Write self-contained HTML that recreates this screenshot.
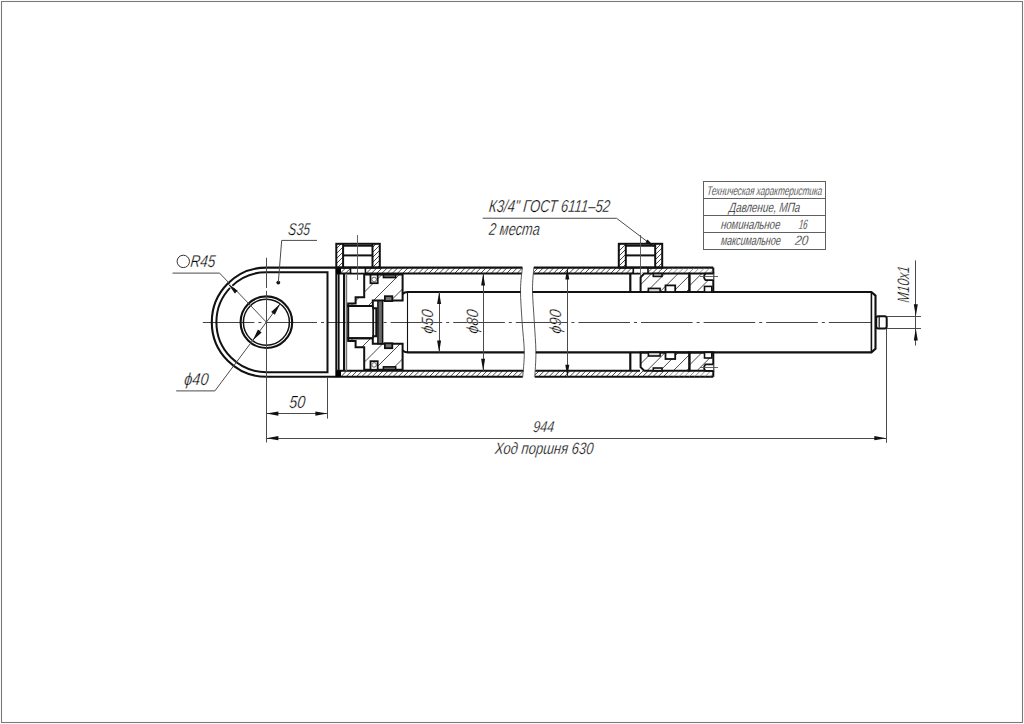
<!DOCTYPE html>
<html><head><meta charset="utf-8"><style>html,body{margin:0;padding:0;background:#fff;width:1024px;height:724px;overflow:hidden}svg{display:block}text{font-family:"Liberation Sans",sans-serif}</style></head>
<body><svg width="1024" height="724" viewBox="0 0 1024 724" font-family="Liberation Sans, sans-serif">
<defs><clipPath id="h1"><path d="M338.5 267.6 L522.4 267.6 L521.8 273.6 L338.5 273.6 Z"/></clipPath><clipPath id="h2"><path d="M533.8 267.6 L668 267.6 L668 273.6 L533.4 273.6 Z"/></clipPath><clipPath id="h3"><path d="M338.5 370.8 L523.6 370.8 L522.8 376.8 L338.5 376.8 Z"/></clipPath><clipPath id="h4"><path d="M535.2 370.8 L668 370.8 L668 376.8 L534.8 376.8 Z"/></clipPath><clipPath id="h5"><path d="M668 267.6 L713.3 267.6 L713.3 273.6 L668 273.6 Z"/></clipPath><clipPath id="h6"><path d="M668 370.8 L713.3 370.8 L713.3 376.8 L668 376.8 Z"/></clipPath><clipPath id="h7"><path d="M336.3 243.8 L343.1 243.8 L343.1 267.6 L336.3 267.6 Z"/></clipPath><clipPath id="h8"><path d="M372.5 243.8 L379.8 243.8 L379.8 267.6 L372.5 267.6 Z"/></clipPath><clipPath id="h9"><path d="M618.8 243.8 L625.8 243.8 L625.8 267.6 L618.8 267.6 Z"/></clipPath><clipPath id="h10"><path d="M655.2 243.8 L662.2 243.8 L662.2 267.6 L655.2 267.6 Z"/></clipPath><clipPath id="h11"><path d="M364.2 274.6 L402.6 274.6 L402.6 300.6 L372.8 300.6 L372.8 306.1 L348.2 306.1 L348.2 303.4 L355.6 303.4 L355.6 297.2 L364.2 297.2 Z"/></clipPath><clipPath id="h12"><path d="M364.2 369.8 L402.6 369.8 L402.6 343.8 L372.8 343.8 L372.8 338.3 L348.2 338.3 L348.2 341 L355.6 341 L355.6 347.2 L364.2 347.2 Z"/></clipPath><clipPath id="h13"><path d="M644.2 273.6 L689.4 273.6 L689.4 292 L640.6 292 L640.6 277.3 Z"/></clipPath><clipPath id="h14"><path d="M644.2 370.8 L689.4 370.8 L689.4 352.4 L640.6 352.4 L640.6 367.1 Z"/></clipPath><clipPath id="h15"><path d="M689.4 273.6 L713.3 273.6 L713.3 292 L689.4 292 Z"/></clipPath><clipPath id="h16"><path d="M689.4 370.8 L713.3 370.8 L713.3 352.4 L689.4 352.4 Z"/></clipPath></defs>
<rect width="1024" height="724" fill="#fff"/>
<rect x="1.5" y="1.5" width="1021" height="721" rx="0" stroke="#7a7a7a" stroke-width="1.1" fill="none"/>
<line x1="202.8" y1="322.5" x2="871" y2="322.5" stroke="#444" stroke-width="1.0" stroke-dasharray="51.6 4 3 4"/>
<path d="M336.5 267.6 H266.4 A54.6 54.6 0 0 0 266.4 376.8 H336.5" stroke="#111" stroke-width="2.1" fill="none" />
<path d="M327.5 272.2 H266.4 A50.0 50.0 0 0 0 266.4 372.2 H327.5 Z" stroke="#111" stroke-width="2.0" fill="none" />
<circle cx="266.4" cy="322.2" r="25.8" stroke="#111" stroke-width="2.1" fill="none"/>
<circle cx="266.4" cy="322.2" r="23.0" stroke="#111" stroke-width="1.5" fill="none"/>
<line x1="266.5" y1="257.8" x2="266.5" y2="288" stroke="#4a4a4a" stroke-width="1.0" />
<line x1="266.5" y1="290.8" x2="266.5" y2="442.5" stroke="#4a4a4a" stroke-width="1.0" />
<circle cx="278.3" cy="282.6" r="1.9" fill="#111"/>
<path d="M278.3 282.6 L281.7 240.4 L317 240.4" stroke="#4a4a4a" stroke-width="1.0" fill="none" />
<g><g transform="translate(287.8 234.6) skewX(-6) translate(-287.8 -234.6)"><text x="287.8" y="234.6" font-size="17.2" font-style="italic" fill="#000" stroke="#fff" stroke-width="0.3"  textLength="21.6" lengthAdjust="spacingAndGlyphs" text-anchor="start">S35</text></g></g>
<circle cx="183.3" cy="261.4" r="6.2" stroke="#333" stroke-width="1" fill="none"/>
<g><g transform="translate(189.9 267.3) skewX(-6) translate(-189.9 -267.3)"><text x="189.9" y="267.3" font-size="17.2" font-style="italic" fill="#000" stroke="#fff" stroke-width="0.3"  textLength="25" lengthAdjust="spacingAndGlyphs" text-anchor="start">R45</text></g></g>
<path d="M172.5 273.1 L219.6 273.1 L266.4 322.2" stroke="#4a4a4a" stroke-width="1.0" fill="none" />
<line x1="229.44" y1="285.24" x2="232.84" y2="288.64" stroke="#fff" stroke-width="3.2" />
<line x1="229.04" y1="284.84" x2="233.04" y2="288.84" stroke="#4a4a4a" stroke-width="1.0" />
<path d="M227.79 283.59 L237.69 290.66 L234.86 293.49 Z" fill="#111" stroke="none"/>
<path d="M176.2 390.9 L214.9 390.9 L280.2 303.7" stroke="#4a4a4a" stroke-width="1.0" fill="none" />
<path d="M280.2 303.8 L274.84 314.78 L271.16 312.02 Z" fill="#111" stroke="none"/>
<path d="M252.6 340.6 L257.96 329.62 L261.64 332.38 Z" fill="#111" stroke="none"/>
<g><g transform="translate(183.8 384.6) skewX(-6) translate(-183.8 -384.6)"><text x="183.8" y="384.6" font-size="17.2" font-style="italic" fill="#000" stroke="#fff" stroke-width="0.3"  textLength="24.2" lengthAdjust="spacingAndGlyphs" text-anchor="start">ϕ40</text></g></g>
<line x1="327.5" y1="377" x2="327.5" y2="418.6" stroke="#4a4a4a" stroke-width="1.0" />
<line x1="266.4" y1="413.5" x2="327.4" y2="413.5" stroke="#4a4a4a" stroke-width="1.0" />
<path d="M266.4 413.6 L278.4 411.5 L278.4 415.7 Z" fill="#111" stroke="none"/>
<path d="M327.4 413.6 L315.4 415.7 L315.4 411.5 Z" fill="#111" stroke="none"/>
<g><g transform="translate(288.7 407.6) skewX(-6) translate(-288.7 -407.6)"><text x="288.7" y="407.6" font-size="17.6" font-style="italic" fill="#000" stroke="#fff" stroke-width="0.3"  textLength="16" lengthAdjust="spacingAndGlyphs" text-anchor="start">50</text></g></g>
<line x1="886.5" y1="328.5" x2="886.5" y2="442.8" stroke="#4a4a4a" stroke-width="1.0" />
<line x1="266.4" y1="438.5" x2="886.3" y2="438.5" stroke="#4a4a4a" stroke-width="1.0" />
<path d="M266.4 438.2 L278.4 436.1 L278.4 440.3 Z" fill="#111" stroke="none"/>
<path d="M886.3 438.2 L874.3 440.3 L874.3 436.1 Z" fill="#111" stroke="none"/>
<g><g transform="translate(532.7 431.6) skewX(-6) translate(-532.7 -431.6)"><text x="532.7" y="431.6" font-size="15.8" font-style="italic" fill="#000" stroke="#fff" stroke-width="0.3"  textLength="21" lengthAdjust="spacingAndGlyphs" text-anchor="start">944</text></g></g>
<g><g transform="translate(494.6 453.8) skewX(-6) translate(-494.6 -453.8)"><text x="494.6" y="453.8" font-size="16.4" font-style="italic" fill="#000" stroke="#fff" stroke-width="0.3"  textLength="98.4" lengthAdjust="spacingAndGlyphs" text-anchor="start">Ход поршня 630</text></g></g>
<path clip-path="url(#h1)" d="M329.6 273.6 L335.6 267.6 M334.8 273.6 L340.8 267.6 M340 273.6 L346 267.6 M345.2 273.6 L351.2 267.6 M350.4 273.6 L356.4 267.6 M355.6 273.6 L361.6 267.6 M360.8 273.6 L366.8 267.6 M366 273.6 L372 267.6 M371.2 273.6 L377.2 267.6 M376.4 273.6 L382.4 267.6 M381.6 273.6 L387.6 267.6 M386.8 273.6 L392.8 267.6 M392 273.6 L398 267.6 M397.2 273.6 L403.2 267.6 M402.4 273.6 L408.4 267.6 M407.6 273.6 L413.6 267.6 M412.8 273.6 L418.8 267.6 M418 273.6 L424 267.6 M423.2 273.6 L429.2 267.6 M428.4 273.6 L434.4 267.6 M433.6 273.6 L439.6 267.6 M438.8 273.6 L444.8 267.6 M444 273.6 L450 267.6 M449.2 273.6 L455.2 267.6 M454.4 273.6 L460.4 267.6 M459.6 273.6 L465.6 267.6 M464.8 273.6 L470.8 267.6 M470 273.6 L476 267.6 M475.2 273.6 L481.2 267.6 M480.4 273.6 L486.4 267.6 M485.6 273.6 L491.6 267.6 M490.8 273.6 L496.8 267.6 M496 273.6 L502 267.6 M501.2 273.6 L507.2 267.6 M506.4 273.6 L512.4 267.6 M511.6 273.6 L517.6 267.6 M516.8 273.6 L522.8 267.6 M522 273.6 L528 267.6 M527.2 273.6 L533.2 267.6" stroke="#333" stroke-width="0.9" fill="none"/>
<path clip-path="url(#h2)" d="M527.2 273.6 L533.2 267.6 M532.4 273.6 L538.4 267.6 M537.6 273.6 L543.6 267.6 M542.8 273.6 L548.8 267.6 M548 273.6 L554 267.6 M553.2 273.6 L559.2 267.6 M558.4 273.6 L564.4 267.6 M563.6 273.6 L569.6 267.6 M568.8 273.6 L574.8 267.6 M574 273.6 L580 267.6 M579.2 273.6 L585.2 267.6 M584.4 273.6 L590.4 267.6 M589.6 273.6 L595.6 267.6 M594.8 273.6 L600.8 267.6 M600 273.6 L606 267.6 M605.2 273.6 L611.2 267.6 M610.4 273.6 L616.4 267.6 M615.6 273.6 L621.6 267.6 M620.8 273.6 L626.8 267.6 M626 273.6 L632 267.6 M631.2 273.6 L637.2 267.6 M636.4 273.6 L642.4 267.6 M641.6 273.6 L647.6 267.6 M646.8 273.6 L652.8 267.6 M652 273.6 L658 267.6 M657.2 273.6 L663.2 267.6 M662.4 273.6 L668.4 267.6 M667.6 273.6 L673.6 267.6 M672.8 273.6 L678.8 267.6" stroke="#333" stroke-width="0.9" fill="none"/>
<path clip-path="url(#h3)" d="M330.4 376.8 L336.4 370.8 M335.6 376.8 L341.6 370.8 M340.8 376.8 L346.8 370.8 M346 376.8 L352 370.8 M351.2 376.8 L357.2 370.8 M356.4 376.8 L362.4 370.8 M361.6 376.8 L367.6 370.8 M366.8 376.8 L372.8 370.8 M372 376.8 L378 370.8 M377.2 376.8 L383.2 370.8 M382.4 376.8 L388.4 370.8 M387.6 376.8 L393.6 370.8 M392.8 376.8 L398.8 370.8 M398 376.8 L404 370.8 M403.2 376.8 L409.2 370.8 M408.4 376.8 L414.4 370.8 M413.6 376.8 L419.6 370.8 M418.8 376.8 L424.8 370.8 M424 376.8 L430 370.8 M429.2 376.8 L435.2 370.8 M434.4 376.8 L440.4 370.8 M439.6 376.8 L445.6 370.8 M444.8 376.8 L450.8 370.8 M450 376.8 L456 370.8 M455.2 376.8 L461.2 370.8 M460.4 376.8 L466.4 370.8 M465.6 376.8 L471.6 370.8 M470.8 376.8 L476.8 370.8 M476 376.8 L482 370.8 M481.2 376.8 L487.2 370.8 M486.4 376.8 L492.4 370.8 M491.6 376.8 L497.6 370.8 M496.8 376.8 L502.8 370.8 M502 376.8 L508 370.8 M507.2 376.8 L513.2 370.8 M512.4 376.8 L518.4 370.8 M517.6 376.8 L523.6 370.8 M522.8 376.8 L528.8 370.8 M528 376.8 L534 370.8" stroke="#333" stroke-width="0.9" fill="none"/>
<path clip-path="url(#h4)" d="M528 376.8 L534 370.8 M533.2 376.8 L539.2 370.8 M538.4 376.8 L544.4 370.8 M543.6 376.8 L549.6 370.8 M548.8 376.8 L554.8 370.8 M554 376.8 L560 370.8 M559.2 376.8 L565.2 370.8 M564.4 376.8 L570.4 370.8 M569.6 376.8 L575.6 370.8 M574.8 376.8 L580.8 370.8 M580 376.8 L586 370.8 M585.2 376.8 L591.2 370.8 M590.4 376.8 L596.4 370.8 M595.6 376.8 L601.6 370.8 M600.8 376.8 L606.8 370.8 M606 376.8 L612 370.8 M611.2 376.8 L617.2 370.8 M616.4 376.8 L622.4 370.8 M621.6 376.8 L627.6 370.8 M626.8 376.8 L632.8 370.8 M632 376.8 L638 370.8 M637.2 376.8 L643.2 370.8 M642.4 376.8 L648.4 370.8 M647.6 376.8 L653.6 370.8 M652.8 376.8 L658.8 370.8 M658 376.8 L664 370.8 M663.2 376.8 L669.2 370.8 M668.4 376.8 L674.4 370.8" stroke="#333" stroke-width="0.9" fill="none"/>
<line x1="336.3" y1="267.6" x2="522.4" y2="267.6" stroke="#111" stroke-width="2.1" />
<line x1="533.8" y1="267.6" x2="713.3" y2="267.6" stroke="#111" stroke-width="2.1" />
<line x1="336.3" y1="273.6" x2="521.8" y2="273.6" stroke="#111" stroke-width="2.0" />
<line x1="533.4" y1="273.6" x2="640" y2="273.6" stroke="#111" stroke-width="2.0" />
<line x1="336.3" y1="370.8" x2="523.6" y2="370.8" stroke="#111" stroke-width="2.0" />
<line x1="535.2" y1="370.8" x2="640" y2="370.8" stroke="#111" stroke-width="2.0" />
<line x1="336.3" y1="376.8" x2="522.8" y2="376.8" stroke="#111" stroke-width="2.1" />
<line x1="534.8" y1="376.8" x2="713.3" y2="376.8" stroke="#111" stroke-width="2.1" />
<path d="M522.4 267.6 C522.08 271.33 520.55 280.93 520.5 290 C520.45 299.07 521.47 311.67 522.1 322 C522.73 332.33 524.2 342.83 524.3 352 C524.4 361.17 522.97 372.83 522.7 377" stroke="#444" stroke-width="0.9" fill="none" />
<path d="M533.8 267.6 C533.58 271.33 532.42 280.93 532.5 290 C532.58 299.07 533.73 311.67 534.3 322 C534.87 332.33 535.82 342.83 535.9 352 C535.98 361.17 534.98 372.83 534.8 377" stroke="#444" stroke-width="0.9" fill="none" />
<path clip-path="url(#h5)" d="M657.2 273.6 L663.2 267.6 M662.4 273.6 L668.4 267.6 M667.6 273.6 L673.6 267.6 M672.8 273.6 L678.8 267.6 M678 273.6 L684 267.6 M683.2 273.6 L689.2 267.6 M688.4 273.6 L694.4 267.6 M693.6 273.6 L699.6 267.6 M698.8 273.6 L704.8 267.6 M704 273.6 L710 267.6 M709.2 273.6 L715.2 267.6 M714.4 273.6 L720.4 267.6" stroke="#777" stroke-width="0.8" fill="none"/>
<path clip-path="url(#h6)" d="M658 376.8 L664 370.8 M663.2 376.8 L669.2 370.8 M668.4 376.8 L674.4 370.8 M673.6 376.8 L679.6 370.8 M678.8 376.8 L684.8 370.8 M684 376.8 L690 370.8 M689.2 376.8 L695.2 370.8 M694.4 376.8 L700.4 370.8 M699.6 376.8 L705.6 370.8 M704.8 376.8 L710.8 370.8 M710 376.8 L716 370.8 M715.2 376.8 L721.2 370.8" stroke="#777" stroke-width="0.8" fill="none"/>
<rect x="350.5" y="268.7" width="14.9" height="3.8" rx="0" stroke="none" stroke-width="0" fill="#fff"/>
<line x1="350.5" y1="267.6" x2="350.5" y2="273.6" stroke="#111" stroke-width="1.6" />
<line x1="365.4" y1="267.6" x2="365.4" y2="273.6" stroke="#111" stroke-width="1.6" />
<rect x="633.3" y="268.7" width="14.7" height="3.8" rx="0" stroke="none" stroke-width="0" fill="#fff"/>
<line x1="633.3" y1="267.6" x2="633.3" y2="273.6" stroke="#111" stroke-width="1.6" />
<line x1="648" y1="267.6" x2="648" y2="273.6" stroke="#111" stroke-width="1.6" />
<line x1="336.3" y1="267.1" x2="336.3" y2="377.3" stroke="#111" stroke-width="2.0" />
<line x1="338.7" y1="273.6" x2="338.7" y2="370.8" stroke="#111" stroke-width="1.8" />
<line x1="344" y1="273.6" x2="344" y2="370.8" stroke="#111" stroke-width="2.0" />
<line x1="346.4" y1="273.6" x2="346.4" y2="370.8" stroke="#777" stroke-width="1.6" />
<rect x="336" y="267.6" width="5" height="6" rx="0" stroke="none" stroke-width="0" fill="#000"/>
<rect x="336" y="370.8" width="5" height="6" rx="0" stroke="none" stroke-width="0" fill="#000"/>
<path clip-path="url(#h7)" d="M312.4 267.6 L336.2 243.8 M317.4 267.6 L341.2 243.8 M322.4 267.6 L346.2 243.8 M327.4 267.6 L351.2 243.8 M332.4 267.6 L356.2 243.8 M337.4 267.6 L361.2 243.8 M342.4 267.6 L366.2 243.8 M347.4 267.6 L371.2 243.8" stroke="#333" stroke-width="0.9" fill="none"/>
<path clip-path="url(#h8)" d="M347.4 267.6 L371.2 243.8 M352.4 267.6 L376.2 243.8 M357.4 267.6 L381.2 243.8 M362.4 267.6 L386.2 243.8 M367.4 267.6 L391.2 243.8 M372.4 267.6 L396.2 243.8 M377.4 267.6 L401.2 243.8 M382.4 267.6 L406.2 243.8" stroke="#333" stroke-width="0.9" fill="none"/>
<rect x="336.3" y="243.8" width="43.5" height="23.8" rx="0" stroke="#111" stroke-width="2.0" fill="none"/>
<line x1="343.1" y1="243.8" x2="343.1" y2="267.6" stroke="#111" stroke-width="2.0" />
<line x1="372.5" y1="243.8" x2="372.5" y2="267.6" stroke="#111" stroke-width="2.0" />
<line x1="343.1" y1="245.8" x2="372.5" y2="245.8" stroke="#111" stroke-width="1.8" />
<line x1="342.6" y1="255.4" x2="373" y2="255.4" stroke="#111" stroke-width="2.0" />
<line x1="357.5" y1="235" x2="357.5" y2="280" stroke="#555" stroke-width="0.9" />
<path clip-path="url(#h9)" d="M592.4 267.6 L616.2 243.8 M597.4 267.6 L621.2 243.8 M602.4 267.6 L626.2 243.8 M607.4 267.6 L631.2 243.8 M612.4 267.6 L636.2 243.8 M617.4 267.6 L641.2 243.8 M622.4 267.6 L646.2 243.8 M627.4 267.6 L651.2 243.8" stroke="#333" stroke-width="0.9" fill="none"/>
<path clip-path="url(#h10)" d="M627.4 267.6 L651.2 243.8 M632.4 267.6 L656.2 243.8 M637.4 267.6 L661.2 243.8 M642.4 267.6 L666.2 243.8 M647.4 267.6 L671.2 243.8 M652.4 267.6 L676.2 243.8 M657.4 267.6 L681.2 243.8 M662.4 267.6 L686.2 243.8" stroke="#333" stroke-width="0.9" fill="none"/>
<rect x="618.8" y="243.8" width="43.4" height="23.8" rx="0" stroke="#111" stroke-width="2.0" fill="none"/>
<line x1="625.8" y1="243.8" x2="625.8" y2="267.6" stroke="#111" stroke-width="2.0" />
<line x1="655.2" y1="243.8" x2="655.2" y2="267.6" stroke="#111" stroke-width="2.0" />
<line x1="625.8" y1="245.8" x2="655.2" y2="245.8" stroke="#111" stroke-width="1.8" />
<line x1="625.3" y1="255.4" x2="655.7" y2="255.4" stroke="#111" stroke-width="2.0" />
<line x1="640.5" y1="235" x2="640.5" y2="276" stroke="#555" stroke-width="0.9" />
<path clip-path="url(#h11)" d="M315.4 306.1 L346.9 274.6 M332.9 306.1 L364.4 274.6 M350.4 306.1 L381.9 274.6 M367.9 306.1 L399.4 274.6 M385.4 306.1 L416.9 274.6 M402.9 306.1 L434.4 274.6" stroke="#333" stroke-width="0.9" fill="none"/>
<path d="M364.2 274.6 L402.6 274.6 L402.6 300.6 L372.8 300.6 L372.8 306.1 L348.2 306.1 L348.2 303.4 L355.6 303.4 L355.6 297.2 L364.2 297.2 Z" stroke="#111" stroke-width="2.0" fill="none" />
<path clip-path="url(#h12)" d="M304.2 369.8 L335.7 338.3 M321.7 369.8 L353.2 338.3 M339.2 369.8 L370.7 338.3 M356.7 369.8 L388.2 338.3 M374.2 369.8 L405.7 338.3 M391.7 369.8 L423.2 338.3 M409.2 369.8 L440.7 338.3" stroke="#333" stroke-width="0.9" fill="none"/>
<path d="M364.2 369.8 L402.6 369.8 L402.6 343.8 L372.8 343.8 L372.8 338.3 L348.2 338.3 L348.2 341 L355.6 341 L355.6 347.2 L364.2 347.2 Z" stroke="#111" stroke-width="2.0" fill="none" />
<path d="M348.2 306.1 H371.4 Q373 306.1 373.2 308.2 H376.3 V336.2 H373.2 Q373 338.3 371.4 338.3 H348.2 Z" stroke="#111" stroke-width="2.0" fill="none" />
<line x1="373.2" y1="308.2" x2="373.2" y2="336.2" stroke="#111" stroke-width="1.8" />
<rect x="377.9" y="300.7" width="4.7" height="43" rx="0" stroke="#111" stroke-width="1.5" fill="#6a6a6a"/>
<rect x="370.5" y="274.6" width="7.2" height="8.6" rx="0" stroke="#111" stroke-width="1.8" fill="#fff"/>
<rect x="370.5" y="361.2" width="7.2" height="8.6" rx="0" stroke="#111" stroke-width="1.8" fill="#fff"/>
<rect x="384.9" y="296.2" width="7.4" height="4.9" rx="0" stroke="#111" stroke-width="1.8" fill="#777"/>
<rect x="384.9" y="343.3" width="7.4" height="4.9" rx="0" stroke="#111" stroke-width="1.8" fill="#777"/>
<rect x="383.4" y="274.6" width="12.3" height="3" rx="0" stroke="#111" stroke-width="1.5" fill="#666"/>
<rect x="383.4" y="366.8" width="12.3" height="3" rx="0" stroke="#111" stroke-width="1.5" fill="#666"/>
<circle cx="374.1" cy="279.5" r="2.3" stroke="#555" stroke-width="0.9" fill="none"/>
<circle cx="374.1" cy="364.9" r="2.3" stroke="#555" stroke-width="0.9" fill="none"/>
<path d="M520.6 292.0 H407.7 Q404.3 292.0 402.6 294.0 M402.6 350.4 Q404.3 352.4 407.7 352.4 H524.2" stroke="#111" stroke-width="2.1" fill="none" />
<path d="M532.6 292.0 H871.4 L875.5 295.6 V348.79999999999995 L871.4 352.4 H535.8" stroke="#111" stroke-width="2.1" fill="none" />
<line x1="407.5" y1="292" x2="407.5" y2="352.4" stroke="#111" stroke-width="1.1" />
<line x1="871.4" y1="292" x2="871.4" y2="352.4" stroke="#111" stroke-width="1.6" />
<rect x="876.2" y="316.2" width="10.5" height="12.2" rx="2" stroke="#111" stroke-width="2.0" fill="none"/>
<line x1="879.2" y1="316.8" x2="879.2" y2="327.8" stroke="#111" stroke-width="1.2" />
<line x1="886.7" y1="316.5" x2="921" y2="316.5" stroke="#4a4a4a" stroke-width="1.0" />
<line x1="886.7" y1="328.5" x2="921" y2="328.5" stroke="#4a4a4a" stroke-width="1.0" />
<line x1="915.5" y1="260.4" x2="915.5" y2="345.5" stroke="#4a4a4a" stroke-width="1.0" />
<path d="M915.8 316.2 L913.8 304.2 L917.8 304.2 Z" fill="#111" stroke="none"/>
<path d="M915.8 328.4 L917.8 340.4 L913.8 340.4 Z" fill="#111" stroke="none"/>
<g transform="rotate(-90 909.2 303)"><g transform="translate(909.2 303) skewX(-6) translate(-909.2 -303)"><text x="909.2" y="303" font-size="16.6" font-style="italic" fill="#000" stroke="#fff" stroke-width="0.3"  textLength="36.5" lengthAdjust="spacingAndGlyphs" text-anchor="start">M10x1</text></g></g>
<line x1="439.5" y1="292" x2="439.5" y2="352.4" stroke="#4a4a4a" stroke-width="1.0" />
<path d="M439.1 292 L441.1 304 L437.1 304 Z" fill="#111" stroke="none"/>
<path d="M439.1 352.4 L437.1 340.4 L441.1 340.4 Z" fill="#111" stroke="none"/>
<g transform="rotate(-90 433.5 334)"><g transform="translate(433.5 334) skewX(-6) translate(-433.5 -334)"><text x="433.5" y="334" font-size="16.4" font-style="italic" fill="#000" stroke="#fff" stroke-width="0.3"  textLength="24" lengthAdjust="spacingAndGlyphs" text-anchor="start">ϕ50</text></g></g>
<line x1="483.5" y1="273.6" x2="483.5" y2="370.8" stroke="#4a4a4a" stroke-width="1.0" />
<path d="M483.1 273.6 L485.1 285.6 L481.1 285.6 Z" fill="#111" stroke="none"/>
<path d="M483.1 370.8 L481.1 358.8 L485.1 358.8 Z" fill="#111" stroke="none"/>
<g transform="rotate(-90 478.3 334)"><g transform="translate(478.3 334) skewX(-6) translate(-478.3 -334)"><text x="478.3" y="334" font-size="16.4" font-style="italic" fill="#000" stroke="#fff" stroke-width="0.3"  textLength="24" lengthAdjust="spacingAndGlyphs" text-anchor="start">ϕ80</text></g></g>
<line x1="567.5" y1="267.6" x2="567.5" y2="376.8" stroke="#4a4a4a" stroke-width="1.0" />
<path d="M567.3 267.6 L569.3 279.6 L565.3 279.6 Z" fill="#111" stroke="none"/>
<path d="M567.3 376.8 L565.3 364.8 L569.3 364.8 Z" fill="#111" stroke="none"/>
<g transform="rotate(-90 560.8 334)"><g transform="translate(560.8 334) skewX(-6) translate(-560.8 -334)"><text x="560.8" y="334" font-size="16.4" font-style="italic" fill="#000" stroke="#fff" stroke-width="0.3"  textLength="24" lengthAdjust="spacingAndGlyphs" text-anchor="start">ϕ90</text></g></g>
<line x1="630.3" y1="273.6" x2="630.3" y2="292" stroke="#111" stroke-width="2.2" />
<line x1="630.3" y1="370.8" x2="630.3" y2="352.4" stroke="#111" stroke-width="2.2" />
<path clip-path="url(#h13)" d="M620.1 292 L638.5 273.6 M633.3 292 L651.7 273.6 M646.5 292 L664.9 273.6 M659.7 292 L678.1 273.6 M672.9 292 L691.3 273.6 M686.1 292 L704.5 273.6 M699.3 292 L717.7 273.6" stroke="#333" stroke-width="0.9" fill="none"/>
<path d="M644.2 273.6 L689.4 273.6 L689.4 292 L640.6 292 L640.6 277.3 Z" stroke="#111" stroke-width="2.0" fill="none" />
<path clip-path="url(#h14)" d="M620.5 370.8 L638.9 352.4 M633.7 370.8 L652.1 352.4 M646.9 370.8 L665.3 352.4 M660.1 370.8 L678.5 352.4 M673.3 370.8 L691.7 352.4 M686.5 370.8 L704.9 352.4 M699.7 370.8 L718.1 352.4" stroke="#333" stroke-width="0.9" fill="none"/>
<path d="M644.2 370.8 L689.4 370.8 L689.4 352.4 L640.6 352.4 L640.6 367.1 Z" stroke="#111" stroke-width="2.0" fill="none" />
<path clip-path="url(#h15)" d="M670.1 292 L688.5 273.6 M683.3 292 L701.7 273.6 M696.5 292 L714.9 273.6 M709.7 292 L728.1 273.6 M722.9 292 L741.3 273.6" stroke="#333" stroke-width="0.9" fill="none"/>
<path d="M689.4 273.6 L713.3 273.6 L713.3 292 L689.4 292 Z" stroke="#111" stroke-width="2.0" fill="none" />
<path clip-path="url(#h16)" d="M670.5 370.8 L688.9 352.4 M683.7 370.8 L702.1 352.4 M696.9 370.8 L715.3 352.4 M710.1 370.8 L728.5 352.4 M723.3 370.8 L741.7 352.4" stroke="#333" stroke-width="0.9" fill="none"/>
<path d="M689.4 370.8 L713.3 370.8 L713.3 352.4 L689.4 352.4 Z" stroke="#111" stroke-width="2.0" fill="none" />
<line x1="713.3" y1="267.6" x2="713.3" y2="273.6" stroke="#111" stroke-width="2.0" />
<line x1="713.3" y1="370.8" x2="713.3" y2="376.8" stroke="#111" stroke-width="2.0" />
<rect x="653.3" y="273.6" width="8.7" height="2.8" rx="0" stroke="#111" stroke-width="1.6" fill="#ddd"/>
<rect x="648.4" y="288.4" width="11.7" height="3.6" rx="0" stroke="#111" stroke-width="1.6" fill="#ddd"/>
<rect x="665.5" y="285.4" width="9.7" height="6.6" rx="0" stroke="#111" stroke-width="1.8" fill="#fff"/>
<rect x="704.5" y="286.4" width="7.3" height="5.6" rx="0" stroke="#111" stroke-width="1.6" fill="#fff"/>
<path d="M713.3 273.6 H705.5 Q702.5 276.85 705.5 280.1 H713.3" stroke="#111" stroke-width="1.8" fill="#fff" />
<line x1="700" y1="276.5" x2="718" y2="276.5" stroke="#555" stroke-width="0.9" />
<rect x="653.3" y="368" width="8.7" height="2.8" rx="0" stroke="#111" stroke-width="1.6" fill="#ddd"/>
<rect x="648.4" y="352.4" width="11.7" height="3.6" rx="0" stroke="#111" stroke-width="1.6" fill="#ddd"/>
<rect x="665.5" y="352.4" width="9.7" height="6.6" rx="0" stroke="#111" stroke-width="1.8" fill="#fff"/>
<rect x="704.5" y="352.4" width="7.3" height="5.6" rx="0" stroke="#111" stroke-width="1.6" fill="#fff"/>
<path d="M713.3 364.29999999999995 H705.5 Q702.5 367.54999999999995 705.5 370.79999999999995 H713.3" stroke="#111" stroke-width="1.8" fill="#fff" />
<line x1="700" y1="367.5" x2="718" y2="367.5" stroke="#555" stroke-width="0.9" />
<path d="M482.7 218.2 L616.6 218.3 L655.2 247.6" stroke="#4a4a4a" stroke-width="1.0" fill="none" />
<path d="M655.2 247.6 L645.41 242.3 L647.47 239.6 Z" fill="#111" stroke="none"/>
<g><g transform="translate(488.6 212.3) skewX(-6) translate(-488.6 -212.3)"><text x="488.6" y="212.3" font-size="17.4" font-style="italic" fill="#000" stroke="#fff" stroke-width="0.3"  textLength="121" lengthAdjust="spacingAndGlyphs" text-anchor="start">К3/4" ГОСТ 6111–52</text></g></g>
<g><g transform="translate(488.6 234.8) skewX(-6) translate(-488.6 -234.8)"><text x="488.6" y="234.8" font-size="17.4" font-style="italic" fill="#000" stroke="#fff" stroke-width="0.3"  textLength="50.7" lengthAdjust="spacingAndGlyphs" text-anchor="start">2 места</text></g></g>
<rect x="703.5" y="181.5" width="122" height="68" rx="0" stroke="#606060" stroke-width="1.0" fill="none"/>
<line x1="703.5" y1="198.5" x2="825.5" y2="198.5" stroke="#606060" stroke-width="1.0" />
<line x1="703.5" y1="215.5" x2="825.5" y2="215.5" stroke="#606060" stroke-width="1.0" />
<line x1="703.5" y1="232.5" x2="825.5" y2="232.5" stroke="#606060" stroke-width="1.0" />
<g><g transform="translate(706.8 194.9) skewX(-6) translate(-706.8 -194.9)"><text x="706.8" y="194.9" font-size="12.5" font-style="italic" fill="#000" stroke="#fff" stroke-width="0.3"  textLength="115" lengthAdjust="spacingAndGlyphs" text-anchor="start">Техническая характеристика</text></g></g>
<g><g transform="translate(728.8 212.5) skewX(-6) translate(-728.8 -212.5)"><text x="728.8" y="212.5" font-size="13.6" font-style="italic" fill="#000" stroke="#fff" stroke-width="0.3"  textLength="71" lengthAdjust="spacingAndGlyphs" text-anchor="start">Давление, МПа</text></g></g>
<g><g transform="translate(720.8 228.6) skewX(-6) translate(-720.8 -228.6)"><text x="720.8" y="228.6" font-size="13.6" font-style="italic" fill="#000" stroke="#fff" stroke-width="0.3"  textLength="59.2" lengthAdjust="spacingAndGlyphs" text-anchor="start">номинальное</text></g></g>
<g><g transform="translate(798.4 228.6) skewX(-6) translate(-798.4 -228.6)"><text x="798.4" y="228.6" font-size="13.6" font-style="italic" fill="#000" stroke="#fff" stroke-width="0.3"  textLength="8.8" lengthAdjust="spacingAndGlyphs" text-anchor="start">16</text></g></g>
<g><g transform="translate(720.8 245.4) skewX(-6) translate(-720.8 -245.4)"><text x="720.8" y="245.4" font-size="13.6" font-style="italic" fill="#000" stroke="#fff" stroke-width="0.3"  textLength="59.5" lengthAdjust="spacingAndGlyphs" text-anchor="start">максимальное</text></g></g>
<g><g transform="translate(794.7 245.4) skewX(-6) translate(-794.7 -245.4)"><text x="794.7" y="245.4" font-size="13.6" font-style="italic" fill="#000" stroke="#fff" stroke-width="0.3"  textLength="13.2" lengthAdjust="spacingAndGlyphs" text-anchor="start">20</text></g></g>
</svg></body></html>
